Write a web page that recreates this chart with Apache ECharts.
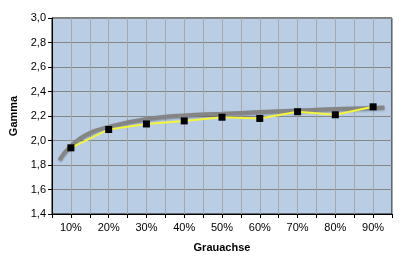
<!DOCTYPE html>
<html>
<head>
<meta charset="utf-8">
<script src="https://cdn.jsdelivr.net/npm/echarts@6/dist/echarts.min.js"></script>
<style>html,body{margin:0;padding:0;background:#fff;}#c{width:399px;height:267px;}</style>
</head>
<body>
<div id="c"></div>
<script>
// Measured points (x in %, gamma)
const categories = [10, 20, 30, 40, 50, 60, 70, 80, 90];
const gammaValues = [1.94, 2.09, 2.135, 2.16, 2.19, 2.18, 2.235, 2.21, 2.275];
// Grey trend curve
const trendX = [7, 10, 15, 20, 30, 40, 50, 60, 70, 80, 90, 93];
const trendY = [1.84, 1.955, 2.06, 2.11, 2.175, 2.205, 2.218, 2.232, 2.245, 2.257, 2.265, 2.27];
const yTicks = [1.4, 1.6, 1.8, 2.0, 2.2, 2.4, 2.6, 2.8, 3.0];

const chart = echarts.init(document.getElementById('c'), null, {renderer: 'canvas'});
const font = 'Liberation Sans, Arial, sans-serif';
chart.setOption({
  animation: false,
  backgroundColor: '#ffffff',
  grid: {left: 50, right: 7, top: 18, bottom: 53, show: true, backgroundColor: '#b9cde4', borderColor: '#000', borderWidth: 1},
  xAxis: {
    type: 'value', min: 5, max: 95, interval: 5,
    name: 'Grauachse', nameLocation: 'middle', nameGap: 28,
    nameTextStyle: {fontFamily: font, fontSize: 11, fontWeight: 'bold', color: '#000'},
    axisLine: {lineStyle: {color: '#000', width: 1}},
    axisTick: {show: true, length: 4, lineStyle: {color: '#000'}},
    axisLabel: {fontFamily: font, fontSize: 11, color: '#000', margin: 8,
      formatter: v => (Math.round(v) % 10 === 0 && categories.indexOf(Math.round(v)) >= 0) ? Math.round(v) + '%' : ''},
    splitLine: {show: true, lineStyle: {color: '#a8a8a8', width: 1}}
  },
  yAxis: {
    type: 'value', min: 1.4, max: 3.0, interval: 0.2,
    name: 'Gamma', nameLocation: 'middle', nameGap: 33, nameRotate: 90,
    nameTextStyle: {fontFamily: font, fontSize: 11, fontWeight: 'bold', color: '#000'},
    axisLine: {show: true, lineStyle: {color: '#000', width: 1}},
    axisTick: {show: true, length: 4, lineStyle: {color: '#000'}},
    axisLabel: {fontFamily: font, fontSize: 11, color: '#000', margin: 6,
      formatter: v => v.toFixed(1).replace('.', ',')},
    splitLine: {show: true, lineStyle: {color: '#868686', width: 1}}
  },
  series: [
    {
      type: 'line', smooth: true, showSymbol: false, silent: true,
      data: trendX.map((x, i) => [x, trendY[i]]),
      lineStyle: {color: '#858585', width: 4, shadowColor: 'rgba(0,0,0,0.3)', shadowBlur: 2, shadowOffsetY: 1}
    },
    {
      type: 'line', symbol: 'rect', symbolSize: 7,
      data: categories.map((x, i) => [x, gammaValues[i]]),
      lineStyle: {color: '#f4f43a', width: 2},
      itemStyle: {color: '#000'}
    }
  ]
});
</script>
</body>
</html>
